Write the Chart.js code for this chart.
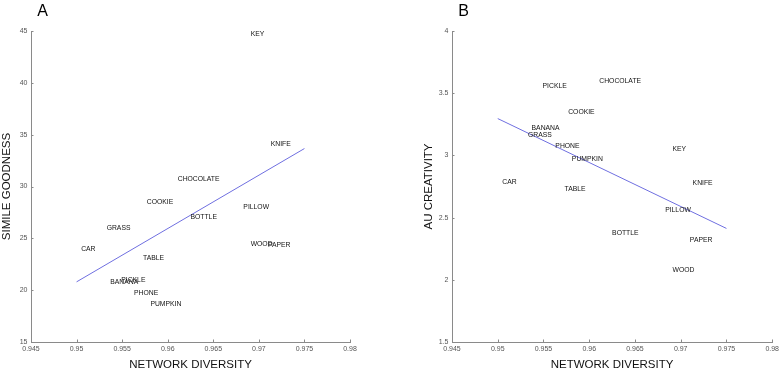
<!DOCTYPE html>
<html>
<head>
<meta charset="utf-8">
<script src="https://cdn.jsdelivr.net/npm/chart.js@4"></script>
<style>
  html, body { margin: 0; padding: 0; background: #fff; }
  #wrap { position: relative; width: 782px; height: 378px; overflow: hidden; }
  canvas { position: absolute; top: 0; }
  #cA { left: 0; }
  #cB { left: 391px; }
</style>
</head>
<body>
<div id="wrap">
  <canvas id="cA" width="391" height="378"></canvas>
  <canvas id="cB" width="391" height="378"></canvas>
</div>
<script>
// ---- data ----
const words = ["CAR","GRASS","BANANA","PICKLE","PHONE","TABLE","COOKIE","PUMPKIN","CHOCOLATE","BOTTLE","PILLOW","KEY","WOOD","PAPER","KNIFE"];
const networkDiversity = [0.9505,0.9533,0.9537,0.9549,0.9563,0.9573,0.9577,0.9581,0.9611,0.9625,0.9683,0.9691,0.9691,0.9710,0.9713];
const simileGoodness = [24.0,25.94,20.8,21.0,19.74,23.08,28.5,18.7,30.7,27.06,28.03,44.7,24.4,24.33,34.05];
const auCreativity = [2.785,3.162,3.218,3.56,3.076,2.731,3.345,2.97,3.594,2.378,2.56,3.05,2.08,2.316,2.777];
const fitX = [0.95, 0.975];
const fitA = [20.8, 33.66];
const fitB = [3.296, 2.413];
const xTicks = [0.945,0.95,0.955,0.96,0.965,0.97,0.975,0.98];
const xTickLabels = ["0.945","0.95","0.955","0.96","0.965","0.97","0.975","0.98"];
const yTicksA = [15,20,25,30,35,40,45];
const yTickLabelsA = ["15","20","25","30","35","40","45"];
const yTicksB = [1.5,2,2.5,3,3.5,4];
const yTickLabelsB = ["1.5","2","2.5","3","3.5","4"];

const FONT = "'Liberation Sans', Arial, Helvetica, sans-serif";
const AXIS_COLOR = '#8a8a8a';
const TICK_COLOR = '#555';

const wordLabels = {
  id: 'wordLabels',
  afterDatasetsDraw(chart, args, opts) {
    const {ctx, scales: {x, y}} = chart;
    ctx.save();
    ctx.font = '6.8px ' + FONT;
    ctx.fillStyle = '#111';
    ctx.textAlign = 'left';
    ctx.textBaseline = 'middle';
    opts.words.forEach((w, i) => {
      ctx.fillText(w, x.getPixelForValue(opts.xs[i]), y.getPixelForValue(opts.ys[i]));
    });
    ctx.restore();
  }
};

const innerTicks = {
  id: 'innerTicks',
  afterDraw(chart, args, opts) {
    const {ctx, chartArea, scales: {x, y}} = chart;
    ctx.save();
    ctx.strokeStyle = AXIS_COLOR;
    ctx.lineWidth = 1;
    ctx.beginPath();
    x.ticks.forEach(t => {
      const px = Math.round(x.getPixelForValue(t.value)) + 0.5;
      ctx.moveTo(px, chartArea.bottom);
      ctx.lineTo(px, chartArea.bottom - 2.5);
    });
    y.ticks.forEach(t => {
      const py = Math.round(y.getPixelForValue(t.value)) + 0.5;
      ctx.moveTo(chartArea.left, py);
      ctx.lineTo(chartArea.left + 2.5, py);
    });
    ctx.stroke();
    // panel letter
    ctx.font = '16px ' + FONT;
    ctx.fillStyle = '#000';
    ctx.textAlign = 'center';
    ctx.textBaseline = 'middle';
    ctx.fillText(opts.letter, opts.lx, opts.ly);
    ctx.restore();
  }
};

function makeChart(id, ys, fitY, yTicks, yTickLabels, yTitle, yWidth, yTitlePad, padRight, letter, lx) {
  return new Chart(document.getElementById(id), {
    type: 'scatter',
    data: {
      datasets: [
        { data: networkDiversity.map((v, i) => ({x: v, y: ys[i]})), pointRadius: 0, showLine: false },
        { data: fitX.map((v, i) => ({x: v, y: fitY[i]})), type: 'line', borderColor: '#6f6fe0', borderWidth: 1, pointRadius: 0, fill: false, tension: 0 }
      ]
    },
    options: {
      responsive: false,
      animation: false,
      devicePixelRatio: 1,
      layout: { padding: { top: 31, right: padRight, bottom: 0, left: 0 } },
      plugins: {
        legend: { display: false },
        tooltip: { enabled: false },
        wordLabels: { words: words, xs: networkDiversity, ys: ys },
        innerTicks: { letter: letter, lx: lx, ly: 12 }
      },
      scales: {
        x: {
          type: 'linear', min: 0.945, max: 0.98,
          afterBuildTicks: s => { s.ticks = xTicks.map(v => ({value: v})); },
          afterFit: s => { s.height = 36; },
          grid: { display: false, drawTicks: false },
          border: { display: true, color: AXIS_COLOR, width: 1 },
          ticks: { padding: 3, color: TICK_COLOR, font: { size: 7, family: FONT }, maxRotation: 0, autoSkip: false,
                   callback: (v, i) => xTickLabels[i] },
          title: { display: true, text: 'NETWORK DIVERSITY', color: '#111', font: { size: 11.5, family: FONT }, padding: { top: 0, bottom: 6.1 } }
        },
        y: {
          type: 'linear', min: yTicks[0], max: yTicks[yTicks.length - 1],
          afterBuildTicks: s => { s.ticks = yTicks.map(v => ({value: v})); },
          afterFit: s => { s.width = yWidth; },
          grid: { display: false, drawTicks: false },
          border: { display: true, color: AXIS_COLOR, width: 1 },
          ticks: { padding: 3.5, color: TICK_COLOR, font: { size: 7, family: FONT }, autoSkip: false,
                   callback: (v, i) => yTickLabels[i] },
          title: { display: true, text: yTitle, color: '#111', font: { size: 11.5, family: FONT }, padding: { top: yTitlePad, bottom: 0 } }
        }
      }
    },
    plugins: [wordLabels, innerTicks]
  });
}

makeChart('cA', simileGoodness, fitA, yTicksA, yTickLabelsA, 'SIMILE GOODNESS', 31, 0.4, 41, 'A', 42.7);
makeChart('cB', auCreativity, fitB, yTicksB, yTickLabelsB, 'AU CREATIVITY', 61, 30.8, 9, 'B', 72.5);
</script>
</body>
</html>
